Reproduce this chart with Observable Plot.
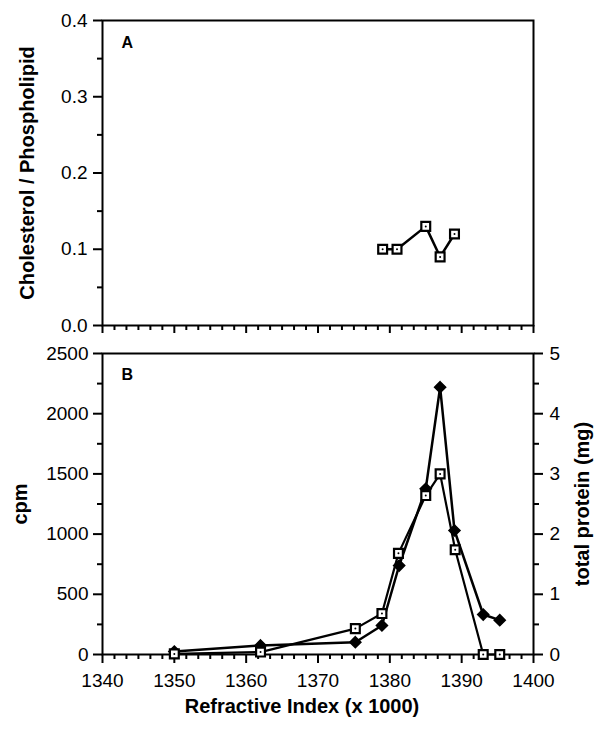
<!DOCTYPE html>
<html><head><meta charset="utf-8">
<script src="https://cdn.jsdelivr.net/npm/d3@7"></script>
<script src="https://cdn.jsdelivr.net/npm/@observablehq/plot@0.6"></script>
<style>
body{margin:0;background:#fff;}
#chart{position:relative;width:602px;height:735px;}
#chart svg{position:absolute;left:0;overflow:visible;}
</style></head><body><div id="chart"></div>
<script>
// Panel A: cholesterol / phospholipid ratio
const ratioX = [1379, 1381, 1385, 1387, 1389];
const ratioY = [0.10, 0.10, 0.13, 0.09, 0.12];
// Panel B: cpm (filled diamonds)
const cpmX = [1350, 1362, 1375.2, 1378.9, 1381.3, 1385, 1387, 1389, 1393, 1395.3];
const cpmY = [25, 75, 102, 241, 739, 1376, 2220, 1030, 332, 285];
// Panel B: total protein in mg (open squares)
const protX = [1350, 1362, 1375.2, 1378.9, 1381.2, 1385, 1387, 1389.1, 1393, 1395.3];
const protY = [0.01, 0.04, 0.43, 0.68, 1.68, 2.64, 3.0, 1.74, 0.0, 0.0];
// ticks
const xTicks = [1340, 1350, 1360, 1370, 1380, 1390, 1400];
const xMinor = xTicks.slice(0, -1).flatMap(t => [1, 2, 3, 4, 5].map(k => t + k * 10 / 6));
const ratioTicks = [0, 0.1, 0.2, 0.3, 0.4];
const ratioMinor = [0.05, 0.15, 0.25, 0.35];
const cpmTicks = [0, 500, 1000, 1500, 2000, 2500];
const cpmMinor = [250, 750, 1250, 1750, 2250];
const protTicks = [0, 1, 2, 3, 4, 5];
const protMinor = [0.5, 1.5, 2.5, 3.5, 4.5];
const mgPerCpm = 5 / 2500; // right axis: 0-5 mg spans 0-2500 cpm

const font = "'Liberation Sans', Arial, Helvetica, sans-serif";
const ratio = ratioX.map((x, i) => ({x, y: ratioY[i]}));
const cpm = cpmX.map((x, i) => ({x, y: cpmY[i]}));
const prot = protX.map((x, i) => ({x, mg: protY[i]}));

const style = {fontFamily: font, fontSize: "19px", color: "#000", background: "transparent", overflow: "visible"};
const W = 602, ML = 102, MR = 69;
const TF = 20; // title font size

const plotA = Plot.plot({
  width: W, height: 340, marginLeft: ML, marginRight: MR, marginTop: 20, marginBottom: 15,
  style,
  x: {domain: [1340, 1400]},
  y: {domain: [0, 0.4]},
  marks: [
    Plot.frame({stroke: "#000", strokeWidth: 2}),
    Plot.axisY({ticks: ratioTicks, tickSize: 9, tickPadding: 6, tickFormat: d3.format(".1f"), strokeWidth: 2, label: null}),
    Plot.axisY({ticks: ratioMinor, tickSize: 5, text: null, strokeWidth: 2, label: null}),
    Plot.axisX({ticks: xTicks, tickSize: 8, text: null, strokeWidth: 2, label: null}),
    Plot.axisX({ticks: xMinor, tickSize: 5, text: null, strokeWidth: 2, label: null}),
    Plot.text(["Cholesterol / Phospholipid"], {frameAnchor: "left", textAnchor: "middle", dx: -75, rotate: -90, fontWeight: "bold", fontSize: TF}),
    Plot.text(["A"], {frameAnchor: "top-left", dx: 19, dy: 16, fontWeight: "bold", fontSize: 16}),
    Plot.line(ratio, {x: "x", y: "y", stroke: "#000", strokeWidth: 2.5}),
    Plot.dot(ratio, {x: "x", y: "y", symbol: "square", r: 5, fill: "#fff", stroke: "#000", strokeWidth: 2.2}),
    Plot.dot(ratio, {x: "x", y: "y", r: 1, fill: "#000"})
  ]
});

const plotB = Plot.plot({
  width: W, height: 395, marginLeft: ML, marginRight: MR, marginTop: 13, marginBottom: 81,
  style,
  x: {domain: [1340, 1400]},
  y: {domain: [0, 2500]},
  marks: [
    Plot.frame({stroke: "#000", strokeWidth: 2}),
    Plot.axisY({ticks: cpmTicks, tickSize: 9, tickPadding: 5, strokeWidth: 2, label: null, tickFormat: d => String(d)}),
    Plot.axisY({ticks: cpmMinor, tickSize: 5, text: null, strokeWidth: 2, label: null}),
    Plot.axisY({anchor: "right", ticks: protTicks.map(v => v / mgPerCpm), tickSize: 9, tickPadding: 7, strokeWidth: 2, label: null, tickFormat: d => String(Math.round(d * mgPerCpm))}),
    Plot.axisY({anchor: "right", ticks: protMinor.map(v => v / mgPerCpm), tickSize: 5, text: null, strokeWidth: 2, label: null}),
    Plot.axisX({ticks: xTicks, tickSize: 9, tickPadding: 10, strokeWidth: 2, label: null, tickFormat: d => String(d)}),
    Plot.axisX({ticks: xMinor, tickSize: 5, text: null, strokeWidth: 2, label: null}),
    Plot.text(["cpm"], {frameAnchor: "left", textAnchor: "middle", dx: -82, rotate: -90, fontWeight: "bold", fontSize: TF}),
    Plot.text(["total protein (mg)"], {frameAnchor: "right", textAnchor: "middle", dx: 49, rotate: -90, fontWeight: "bold", fontSize: TF}),
    Plot.text(["Refractive Index (x 1000)"], {frameAnchor: "bottom", dx: -16, dy: 58, fontWeight: "bold", fontSize: TF}),
    Plot.text(["B"], {frameAnchor: "top-left", dx: 19, dy: 15, fontWeight: "bold", fontSize: 16}),
    Plot.line(cpm, {x: "x", y: "y", stroke: "#000", strokeWidth: 2.5}),
    Plot.line(prot, {x: "x", y: d => d.mg / mgPerCpm, stroke: "#000", strokeWidth: 2.2}),
    Plot.dot(cpm, {x: "x", y: "y", symbol: "diamond2", r: 5, fill: "#000", stroke: "#000"}),
    Plot.dot(prot, {x: "x", y: d => d.mg / mgPerCpm, symbol: "square", r: 5, fill: "#fff", stroke: "#000", strokeWidth: 2.2}),
    Plot.dot(prot, {x: "x", y: d => d.mg / mgPerCpm, r: 1, fill: "#000"})
  ]
});

const root = document.getElementById("chart");
plotA.style.top = "0px";
plotB.style.top = "340px";
root.appendChild(plotA);
root.appendChild(plotB);
</script>
</body></html>
